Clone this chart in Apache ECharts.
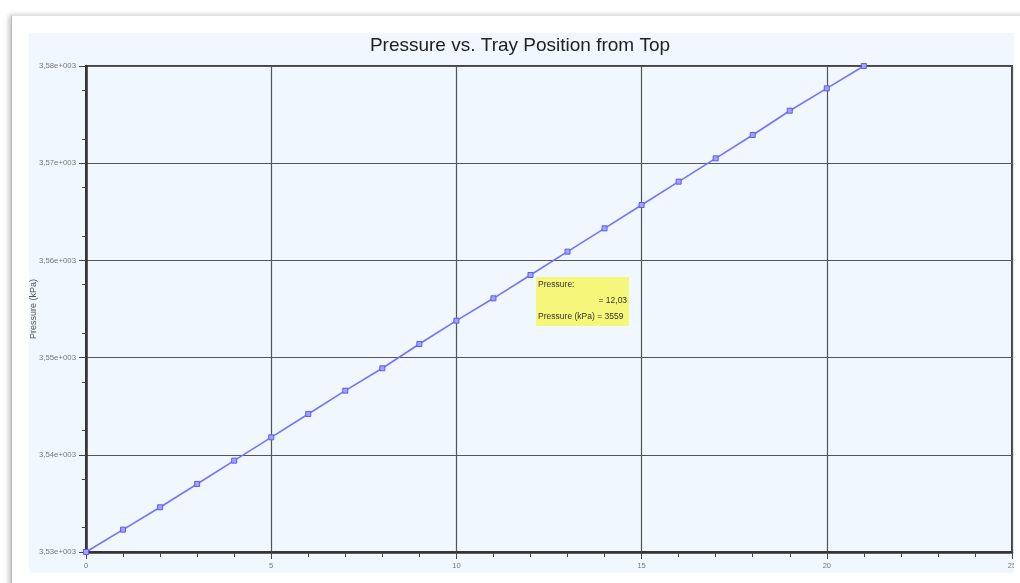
<!DOCTYPE html>
<html>
<head>
<meta charset="utf-8">
<script src="https://cdn.jsdelivr.net/npm/echarts@6/dist/echarts.min.js"></script>
<style>
  html, body { margin: 0; padding: 0; background: #ffffff; width: 1020px; height: 583px; overflow: hidden; }
  #frame {
    position: absolute; left: 11px; top: 15px; width: 1040px; height: 600px;
    background: #ffffff; border-top: 1px solid #e2e2e2; border-left: 1px solid #bdbdbd;
    box-shadow: -2px 0 5px rgba(0,0,0,0.25);
  }
  #chart { position: absolute; left: 0; top: 0; width: 1014px; height: 583px; }
</style>
</head>
<body>
<div id="frame"></div>
<div id="chart"></div>
<script>
// Tray position (from top) and column pressure profile
const trayPos = [0, 1, 2, 3, 4, 5, 6, 7, 8, 9, 10, 11, 12, 13, 14, 15, 16, 17, 18, 19, 20, 21];
const pressure = [3530.0, 3532.3, 3534.6, 3537.0, 3539.4, 3541.8, 3544.2, 3546.6, 3548.9, 3551.4,
                  3553.8, 3556.1, 3558.5, 3560.9, 3563.3, 3565.7, 3568.1, 3570.5, 3572.9, 3575.4,
                  3577.7, 3580.0];

// Axis ranges
const xRange = [0, 25];
const xStep = 5;
const yRange = [3530, 3580];
const yStep = 10;

// Hover readout
const probePos = [12.03];
const probePressure = [3559];

// quarter-step slots on the pressure axis; minor ticks sit on the odd ones
const yQuarter = [];
for (let v = yRange[0]; v <= yRange[1] + 1e-9; v += yStep / 4) yQuarter.push(String(v));

function sci(v) {
  return (v / 1000).toFixed(2).replace('.', ',') + 'e+003';
}

const font = 'Liberation Sans, Arial, sans-serif';
const chart = echarts.init(document.getElementById('chart'), null, { renderer: 'canvas' });

chart.setOption({
  animation: false,
  backgroundColor: 'transparent',
  title: {
    text: 'Pressure vs. Tray Position from Top',
    left: 515, textAlign: 'center', top: 31,
    textStyle: { fontFamily: font, fontSize: 19, fontWeight: 'normal', color: '#222' }
  },
  grid: {
    left: 86, right: 2, top: 66, bottom: 31,
    outerBoundsMode: 'none', containLabel: false,
    show: true, borderColor: '#444', borderWidth: 2, backgroundColor: 'transparent'
  },
  xAxis: {
    type: 'value', min: xRange[0], max: xRange[1], interval: xStep,
    axisLine: { show: true, onZero: false, lineStyle: { color: '#333', width: 2.5 } },
    axisTick: { show: true, inside: false, length: 7, lineStyle: { color: '#444', width: 1 } },
    minorTick: { show: true, splitNumber: 5, length: 5, lineStyle: { color: '#444', width: 1 } },
    axisLabel: { margin: 10, fontSize: 7.5, color: '#777', fontFamily: font, hideOverlap: false },
    splitLine: { show: true, lineStyle: { color: '#555', width: 1.2 } }
  },
  yAxis: [{
    type: 'value', min: yRange[0], max: yRange[1], interval: yStep,
    name: 'Pressure (kPa)', nameLocation: 'middle', nameGap: 48, nameMoveOverlap: false,
    nameTextStyle: { fontSize: 9, color: '#555', fontFamily: font },
    axisLine: { show: true, onZero: false, lineStyle: { color: '#333', width: 2.5 } },
    axisTick: { show: true, inside: false, length: 7, lineStyle: { color: '#444', width: 1 } },
    axisLabel: { margin: 10, fontSize: 7.8, color: '#777', formatter: sci, fontFamily: font },
    splitLine: { show: true, lineStyle: { color: '#555', width: 1.2 } }
  }, {
    type: 'category', data: yQuarter, boundaryGap: false, position: 'left',
    axisLine: { show: false },
    axisLabel: { show: false },
    splitLine: { show: false },
    axisTick: { show: true, inside: false, length: 4, interval: (i) => i % 2 === 1, lineStyle: { color: '#444', width: 1 } }
  }],
  series: [{
    type: 'line',
    data: trayPos.map((x, i) => [x, pressure[i]]),
    clip: true,
    symbol: 'rect', symbolSize: 5, showAllSymbol: true,
    lineStyle: { color: '#7373ff', width: 1.6 },
    itemStyle: { color: '#a3a3ff', borderColor: '#5a5af0', borderWidth: 1 },
    z: 5
  }]
});

// panel background plus the yellow readout anchored at the probed point
const p = chart.convertToPixel({ xAxisIndex: 0, yAxisIndex: 0 }, [probePos[0], probePressure[0]]);
const bx = p[0] + 4.5, by = p[1] + 7;
chart.setOption({
  graphic: [{
    type: 'rect', silent: true, z: -10,
    shape: { x: 29, y: 33, width: 985, height: 540 },
    style: { fill: '#f0f7ff' }
  }, {
    type: 'group', x: bx, y: by, z: 100,
    children: [
      { type: 'rect', shape: { x: 0, y: 0, width: 93, height: 49 }, style: { fill: '#f6f67a' } },
      { type: 'text', x: 2, y: 3, style: { text: 'Pressure:', font: '8.5px ' + font, fill: '#333' } },
      { type: 'text', x: 91, y: 19, style: { text: '= ' + probePos[0].toFixed(2).replace('.', ','), font: '8.5px ' + font, fill: '#333', align: 'right' } },
      { type: 'text', x: 2, y: 35, style: { text: 'Pressure (kPa) = ' + probePressure[0], font: '8.5px ' + font, fill: '#333' } }
    ]
  }]
});
</script>
</body>
</html>
